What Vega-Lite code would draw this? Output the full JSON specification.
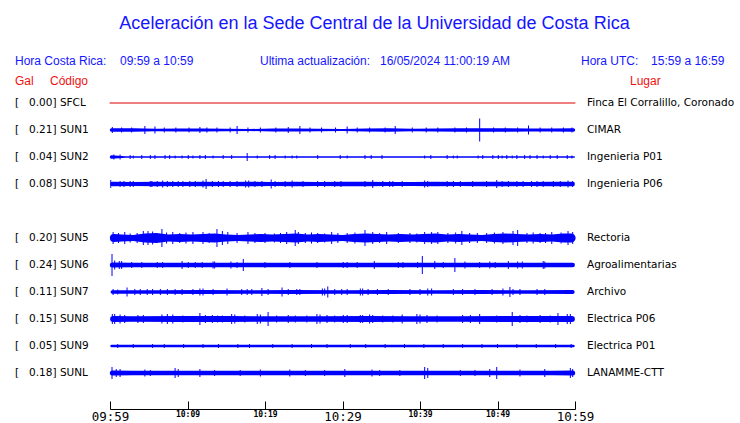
{
"$schema": "https://vega.github.io/schema/vega-lite/v6.json",
"width": 465, "height": 369,
"autosize": {"type": "none"},
"padding": {"left": 110, "top": 40, "right": 165, "bottom": 14},
"background": "white",
"title": {"text": "Aceleración en la Sede Central de la Universidad de Costa Rica", "font": "Liberation Sans", "fontSize": 18, "fontWeight": "normal", "color": "#1515ff", "anchor": "middle", "dx": 32, "offset": 7},
"config": {"view": {"stroke": null}, "axis": {"grid": false}},
"datasets": {
"sta": [
{"s": "SFCL", "slot": 0, "label": "[\u00a0\u00a0\u00a00.00] SFCL", "place": "Finca El Corralillo, Coronado"},
{"s": "SUN1", "slot": 1, "label": "[\u00a0\u00a0\u00a00.21] SUN1", "place": "CIMAR"},
{"s": "SUN2", "slot": 2, "label": "[\u00a0\u00a0\u00a00.04] SUN2", "place": "Ingenieria P01"},
{"s": "SUN3", "slot": 3, "label": "[\u00a0\u00a0\u00a00.08] SUN3", "place": "Ingenieria P06"},
{"s": "SUN5", "slot": 5, "label": "[\u00a0\u00a0\u00a00.20] SUN5", "place": "Rectoria"},
{"s": "SUN6", "slot": 6, "label": "[\u00a0\u00a0\u00a00.24] SUN6", "place": "Agroalimentarias"},
{"s": "SUN7", "slot": 7, "label": "[\u00a0\u00a0\u00a00.11] SUN7", "place": "Archivo"},
{"s": "SUN8", "slot": 8, "label": "[\u00a0\u00a0\u00a00.15] SUN8", "place": "Electrica P06"},
{"s": "SUN9", "slot": 9, "label": "[\u00a0\u00a0\u00a00.05] SUN9", "place": "Electrica P01"},
{"s": "SUNL", "slot": 10, "label": "[\u00a0\u00a0\u00a00.18] SUNL", "place": "LANAMME-CTT"}
],
"hdr": [
{"txt": "Hora Costa Rica:", "t": -12.26, "slot": -1.56, "k": "h"},
{"txt": "09:59 a 10:59", "t": 1.29, "slot": -1.56, "k": "h"},
{"txt": "Ultima actualización:", "t": 19.35, "slot": -1.56, "k": "h"},
{"txt": "16/05/2024 11:00:19 AM", "t": 34.84, "slot": -1.56, "k": "h"},
{"txt": "Hora UTC:", "t": 60.77, "slot": -1.56, "k": "h"},
{"txt": "15:59 a 16:59", "t": 69.81, "slot": -1.56, "k": "h"},
{"txt": "Gal", "t": -12.26, "slot": -0.8, "k": "c"},
{"txt": "Código", "t": -7.74, "slot": -0.8, "k": "c"},
{"txt": "Lugar", "t": 67.1, "slot": -0.8, "k": "c"}
],
"env": [
{"s":"SFCL","t":0,"a":1},{"s":"SFCL","t":60,"a":1},
{"s":"SUN1","t":0.2,"a":3.5},{"s":"SUN1","t":3,"a":3.5},{"s":"SUN1","t":6,"a":2.5},{"s":"SUN1","t":9,"a":3},{"s":"SUN1","t":12,"a":3},{"s":"SUN1","t":15,"a":2.5},{"s":"SUN1","t":18,"a":2},{"s":"SUN1","t":21,"a":3},{"s":"SUN1","t":24,"a":3},{"s":"SUN1","t":27,"a":2.5},{"s":"SUN1","t":30,"a":2},{"s":"SUN1","t":33,"a":3},{"s":"SUN1","t":36,"a":3.5},{"s":"SUN1","t":39,"a":2.5},{"s":"SUN1","t":42,"a":3},{"s":"SUN1","t":45,"a":3.5},{"s":"SUN1","t":48,"a":3.5},{"s":"SUN1","t":51,"a":3.5},{"s":"SUN1","t":54,"a":3},{"s":"SUN1","t":57,"a":3},{"s":"SUN1","t":59.8,"a":3.5},
{"s":"SUN2","t":0.2,"a":3.5},{"s":"SUN2","t":2,"a":1.5},{"s":"SUN2","t":30,"a":1.5},{"s":"SUN2","t":59.9,"a":1.5},
{"s":"SUN3","t":0.3,"a":4.5},{"s":"SUN3","t":3,"a":4},{"s":"SUN3","t":6,"a":4.5},{"s":"SUN3","t":9,"a":4},{"s":"SUN3","t":12,"a":4.5},{"s":"SUN3","t":15,"a":4},{"s":"SUN3","t":18,"a":4.5},{"s":"SUN3","t":21,"a":4},{"s":"SUN3","t":24,"a":4.5},{"s":"SUN3","t":27,"a":4},{"s":"SUN3","t":30,"a":4.5},{"s":"SUN3","t":33,"a":4.5},{"s":"SUN3","t":36,"a":4},{"s":"SUN3","t":39,"a":4},{"s":"SUN3","t":42,"a":4.5},{"s":"SUN3","t":45,"a":4},{"s":"SUN3","t":48,"a":4.5},{"s":"SUN3","t":51,"a":4.5},{"s":"SUN3","t":54,"a":4},{"s":"SUN3","t":57,"a":4.5},{"s":"SUN3","t":59.7,"a":4.5},
{"s":"SUN5","t":0.5,"a":8},{"s":"SUN5","t":1.5,"a":7},{"s":"SUN5","t":3,"a":6},{"s":"SUN5","t":4.5,"a":9},{"s":"SUN5","t":6,"a":10},{"s":"SUN5","t":7.5,"a":7},{"s":"SUN5","t":9,"a":8},{"s":"SUN5","t":10.5,"a":7},{"s":"SUN5","t":12,"a":8},{"s":"SUN5","t":13.5,"a":9},{"s":"SUN5","t":15,"a":7},{"s":"SUN5","t":16.5,"a":6},{"s":"SUN5","t":18,"a":7},{"s":"SUN5","t":19.5,"a":8},{"s":"SUN5","t":21,"a":7},{"s":"SUN5","t":22.5,"a":8},{"s":"SUN5","t":24,"a":9},{"s":"SUN5","t":25.5,"a":7},{"s":"SUN5","t":27,"a":8},{"s":"SUN5","t":28.5,"a":7},{"s":"SUN5","t":30,"a":6},{"s":"SUN5","t":31.5,"a":8},{"s":"SUN5","t":33,"a":9},{"s":"SUN5","t":34.5,"a":8},{"s":"SUN5","t":36,"a":7},{"s":"SUN5","t":37.5,"a":8},{"s":"SUN5","t":39,"a":7},{"s":"SUN5","t":40.5,"a":8},{"s":"SUN5","t":42,"a":9},{"s":"SUN5","t":43.5,"a":7},{"s":"SUN5","t":45,"a":8},{"s":"SUN5","t":46.5,"a":7},{"s":"SUN5","t":48,"a":6},{"s":"SUN5","t":49.5,"a":8},{"s":"SUN5","t":51,"a":9},{"s":"SUN5","t":52.5,"a":8},{"s":"SUN5","t":54,"a":7},{"s":"SUN5","t":55.5,"a":8},{"s":"SUN5","t":57,"a":7},{"s":"SUN5","t":58.5,"a":9},{"s":"SUN5","t":59.5,"a":9},
{"s":"SUN6","t":0.3,"a":5},{"s":"SUN6","t":3,"a":4.5},{"s":"SUN6","t":20,"a":4.5},{"s":"SUN6","t":40,"a":4.5},{"s":"SUN6","t":59.7,"a":4.5},
{"s":"SUN7","t":0.3,"a":3.5},{"s":"SUN7","t":6,"a":3.5},{"s":"SUN7","t":12,"a":4},{"s":"SUN7","t":18,"a":3.5},{"s":"SUN7","t":24,"a":4},{"s":"SUN7","t":30,"a":3.5},{"s":"SUN7","t":36,"a":4},{"s":"SUN7","t":42,"a":3.5},{"s":"SUN7","t":48,"a":4},{"s":"SUN7","t":54,"a":3.5},{"s":"SUN7","t":59.7,"a":4},
{"s":"SUN8","t":0.4,"a":6},{"s":"SUN8","t":3,"a":5.5},{"s":"SUN8","t":9,"a":6},{"s":"SUN8","t":15,"a":6},{"s":"SUN8","t":21,"a":5.5},{"s":"SUN8","t":27,"a":5.5},{"s":"SUN8","t":33,"a":6},{"s":"SUN8","t":39,"a":5.5},{"s":"SUN8","t":45,"a":5.5},{"s":"SUN8","t":51,"a":6},{"s":"SUN8","t":57,"a":6},{"s":"SUN8","t":59.6,"a":6},
{"s":"SUN9","t":0.2,"a":2.5},{"s":"SUN9","t":30,"a":2.5},{"s":"SUN9","t":59.8,"a":2.5},
{"s":"SUNL","t":0.3,"a":5},{"s":"SUNL","t":3,"a":4.5},{"s":"SUNL","t":30,"a":4.5},{"s":"SUNL","t":57,"a":4.5},{"s":"SUNL","t":59.7,"a":5}
],
"spk": [
{"s":"SUN1","t":0.3,"a":6},{"s":"SUN1","t":1.5,"a":5},{"s":"SUN1","t":2.8,"a":5},{"s":"SUN1","t":4.5,"a":8},{"s":"SUN1","t":5.8,"a":7},{"s":"SUN1","t":7,"a":5},{"s":"SUN1","t":8.5,"a":5},{"s":"SUN1","t":10.2,"a":5},{"s":"SUN1","t":11.6,"a":6},{"s":"SUN1","t":12.5,"a":5},{"s":"SUN1","t":13.8,"a":5},{"s":"SUN1","t":15.5,"a":5},{"s":"SUN1","t":16.4,"a":8},{"s":"SUN1","t":17.8,"a":5},{"s":"SUN1","t":19.4,"a":5},{"s":"SUN1","t":21.4,"a":5},{"s":"SUN1","t":23,"a":6},{"s":"SUN1","t":24.5,"a":8},{"s":"SUN1","t":25.8,"a":5},{"s":"SUN1","t":27.3,"a":5},{"s":"SUN1","t":29.1,"a":5},{"s":"SUN1","t":30.6,"a":7},{"s":"SUN1","t":31.9,"a":5},{"s":"SUN1","t":33.5,"a":5},{"s":"SUN1","t":35.5,"a":5},{"s":"SUN1","t":36.8,"a":8},{"s":"SUN1","t":39,"a":5},{"s":"SUN1","t":40.8,"a":5},{"s":"SUN1","t":42.3,"a":5},{"s":"SUN1","t":44.5,"a":5},{"s":"SUN1","t":46,"a":5},{"s":"SUN1","t":47.7,"a":23},{"s":"SUN1","t":49.5,"a":5},{"s":"SUN1","t":51,"a":5},{"s":"SUN1","t":52.6,"a":5},{"s":"SUN1","t":54,"a":9},{"s":"SUN1","t":55.5,"a":5},{"s":"SUN1","t":57,"a":5},{"s":"SUN1","t":58.5,"a":5},{"s":"SUN1","t":59.6,"a":5},
{"s":"SUN2","t":0.5,"a":5},{"s":"SUN2","t":1.3,"a":5},{"s":"SUN2","t":2.6,"a":4},{"s":"SUN2","t":3.0,"a":3},{"s":"SUN2","t":4.1,"a":4},{"s":"SUN2","t":5.2,"a":4},{"s":"SUN2","t":5.8,"a":4},{"s":"SUN2","t":7.1,"a":4},{"s":"SUN2","t":7.7,"a":4},{"s":"SUN2","t":8.4,"a":3},{"s":"SUN2","t":9.3,"a":3},{"s":"SUN2","t":10.1,"a":4},{"s":"SUN2","t":10.7,"a":3},{"s":"SUN2","t":11.6,"a":4},{"s":"SUN2","t":12.3,"a":4},{"s":"SUN2","t":13.3,"a":3},{"s":"SUN2","t":14.6,"a":4},{"s":"SUN2","t":15.7,"a":4},{"s":"SUN2","t":17.7,"a":8},{"s":"SUN2","t":19.0,"a":3},{"s":"SUN2","t":20.6,"a":4},{"s":"SUN2","t":21.3,"a":4},{"s":"SUN2","t":22.6,"a":3},{"s":"SUN2","t":23.5,"a":3},{"s":"SUN2","t":24.1,"a":3},{"s":"SUN2","t":26.8,"a":4},{"s":"SUN2","t":29.7,"a":4},{"s":"SUN2","t":30.6,"a":3},{"s":"SUN2","t":32.9,"a":4},{"s":"SUN2","t":33.7,"a":4},{"s":"SUN2","t":35.1,"a":4},{"s":"SUN2","t":40.6,"a":3},{"s":"SUN2","t":41.4,"a":4},{"s":"SUN2","t":43.5,"a":4},{"s":"SUN2","t":44.3,"a":3},{"s":"SUN2","t":44.8,"a":3},{"s":"SUN2","t":47.5,"a":3},{"s":"SUN2","t":48.1,"a":4},{"s":"SUN2","t":49.4,"a":4},{"s":"SUN2","t":50.1,"a":4},{"s":"SUN2","t":50.6,"a":3},{"s":"SUN2","t":51.2,"a":4},{"s":"SUN2","t":51.9,"a":3},{"s":"SUN2","t":52.5,"a":4},{"s":"SUN2","t":53.5,"a":4},{"s":"SUN2","t":54.2,"a":4},{"s":"SUN2","t":55.1,"a":4},{"s":"SUN2","t":55.9,"a":3},{"s":"SUN2","t":56.8,"a":4},{"s":"SUN2","t":57.7,"a":4},{"s":"SUN2","t":59.0,"a":4},{"s":"SUN2","t":59.6,"a":3},
{"s":"SUN3","t":0.1,"a":8},{"s":"SUN3","t":1.3,"a":6},{"s":"SUN3","t":1.8,"a":6},{"s":"SUN3","t":2.6,"a":6},{"s":"SUN3","t":3.0,"a":6},{"s":"SUN3","t":5.2,"a":6},{"s":"SUN3","t":5.4,"a":6},{"s":"SUN3","t":6.1,"a":6},{"s":"SUN3","t":6.8,"a":7},{"s":"SUN3","t":7.4,"a":6},{"s":"SUN3","t":8.1,"a":6},{"s":"SUN3","t":8.8,"a":6},{"s":"SUN3","t":9.4,"a":6},{"s":"SUN3","t":10.3,"a":6},{"s":"SUN3","t":11.0,"a":6},{"s":"SUN3","t":12.0,"a":7},{"s":"SUN3","t":12.4,"a":10},{"s":"SUN3","t":13.2,"a":6},{"s":"SUN3","t":14.0,"a":6},{"s":"SUN3","t":14.6,"a":6},{"s":"SUN3","t":15.5,"a":6},{"s":"SUN3","t":16.4,"a":6},{"s":"SUN3","t":17.5,"a":7},{"s":"SUN3","t":17.9,"a":7},{"s":"SUN3","t":18.7,"a":6},{"s":"SUN3","t":19.6,"a":6},{"s":"SUN3","t":20.8,"a":9},{"s":"SUN3","t":21.3,"a":6},{"s":"SUN3","t":22.6,"a":6},{"s":"SUN3","t":23.5,"a":7},{"s":"SUN3","t":24.9,"a":6},{"s":"SUN3","t":26.8,"a":6},{"s":"SUN3","t":27.7,"a":6},{"s":"SUN3","t":29.0,"a":6},{"s":"SUN3","t":29.8,"a":6},{"s":"SUN3","t":32.9,"a":6},{"s":"SUN3","t":33.9,"a":8},{"s":"SUN3","t":35.2,"a":6},{"s":"SUN3","t":36.1,"a":6},{"s":"SUN3","t":36.5,"a":6},{"s":"SUN3","t":37.7,"a":6},{"s":"SUN3","t":40.6,"a":7},{"s":"SUN3","t":41.0,"a":6},{"s":"SUN3","t":43.5,"a":6},{"s":"SUN3","t":44.3,"a":6},{"s":"SUN3","t":45.2,"a":6},{"s":"SUN3","t":46.8,"a":6},{"s":"SUN3","t":48.6,"a":6},{"s":"SUN3","t":49.9,"a":8},{"s":"SUN3","t":50.6,"a":6},{"s":"SUN3","t":51.4,"a":6},{"s":"SUN3","t":52.5,"a":6},{"s":"SUN3","t":53.3,"a":6},{"s":"SUN3","t":54.4,"a":6},{"s":"SUN3","t":55.1,"a":6},{"s":"SUN3","t":55.9,"a":6},{"s":"SUN3","t":57.2,"a":6},{"s":"SUN3","t":58.1,"a":6},{"s":"SUN3","t":59.1,"a":7},{"s":"SUN3","t":59.7,"a":6},
{"s":"SUN5","t":0.4,"a":12},{"s":"SUN5","t":1.1,"a":10},{"s":"SUN5","t":1.9,"a":12},{"s":"SUN5","t":2.6,"a":9},{"s":"SUN5","t":3.5,"a":10},{"s":"SUN5","t":4.3,"a":14},{"s":"SUN5","t":4.9,"a":14},{"s":"SUN5","t":5.5,"a":13},{"s":"SUN5","t":6.7,"a":18},{"s":"SUN5","t":7.3,"a":11},{"s":"SUN5","t":8.1,"a":12},{"s":"SUN5","t":9.0,"a":10},{"s":"SUN5","t":9.8,"a":11},{"s":"SUN5","t":10.7,"a":12},{"s":"SUN5","t":12.0,"a":12},{"s":"SUN5","t":12.8,"a":10},{"s":"SUN5","t":13.8,"a":18},{"s":"SUN5","t":14.5,"a":14},{"s":"SUN5","t":15.2,"a":12},{"s":"SUN5","t":16.4,"a":10},{"s":"SUN5","t":17.8,"a":12},{"s":"SUN5","t":18.7,"a":10},{"s":"SUN5","t":20.0,"a":10},{"s":"SUN5","t":21.2,"a":9},{"s":"SUN5","t":22.0,"a":10},{"s":"SUN5","t":22.8,"a":12},{"s":"SUN5","t":23.9,"a":16},{"s":"SUN5","t":24.3,"a":12},{"s":"SUN5","t":25.2,"a":10},{"s":"SUN5","t":26.0,"a":11},{"s":"SUN5","t":26.8,"a":10},{"s":"SUN5","t":27.7,"a":9},{"s":"SUN5","t":28.6,"a":12},{"s":"SUN5","t":29.4,"a":10},{"s":"SUN5","t":30.6,"a":10},{"s":"SUN5","t":31.6,"a":11},{"s":"SUN5","t":32.9,"a":16},{"s":"SUN5","t":33.9,"a":12},{"s":"SUN5","t":34.8,"a":10},{"s":"SUN5","t":35.7,"a":12},{"s":"SUN5","t":37.2,"a":10},{"s":"SUN5","t":38.7,"a":10},{"s":"SUN5","t":39.6,"a":9},{"s":"SUN5","t":40.6,"a":12},{"s":"SUN5","t":41.5,"a":12},{"s":"SUN5","t":42.3,"a":12},{"s":"SUN5","t":43.6,"a":10},{"s":"SUN5","t":44.6,"a":11},{"s":"SUN5","t":45.4,"a":14},{"s":"SUN5","t":46.4,"a":10},{"s":"SUN5","t":47.4,"a":10},{"s":"SUN5","t":48.6,"a":10},{"s":"SUN5","t":49.6,"a":11},{"s":"SUN5","t":50.7,"a":12},{"s":"SUN5","t":52.0,"a":14},{"s":"SUN5","t":52.6,"a":16},{"s":"SUN5","t":53.8,"a":10},{"s":"SUN5","t":54.6,"a":11},{"s":"SUN5","t":55.5,"a":10},{"s":"SUN5","t":56.2,"a":10},{"s":"SUN5","t":57.0,"a":12},{"s":"SUN5","t":58.2,"a":11},{"s":"SUN5","t":59.1,"a":14},{"s":"SUN5","t":59.7,"a":12},
{"s":"SUN6","t":0.26,"a":22},{"s":"SUN6","t":0.6,"a":9},{"s":"SUN6","t":1.2,"a":8},{"s":"SUN6","t":1.5,"a":8},{"s":"SUN6","t":2.8,"a":6},{"s":"SUN6","t":4.1,"a":6},{"s":"SUN6","t":6.1,"a":6},{"s":"SUN6","t":6.8,"a":6},{"s":"SUN6","t":9.3,"a":8},{"s":"SUN6","t":10.1,"a":6},{"s":"SUN6","t":11.0,"a":6},{"s":"SUN6","t":11.9,"a":6},{"s":"SUN6","t":13.3,"a":7},{"s":"SUN6","t":13.5,"a":7},{"s":"SUN6","t":15.6,"a":7},{"s":"SUN6","t":16.4,"a":6},{"s":"SUN6","t":17.2,"a":12},{"s":"SUN6","t":20.0,"a":6},{"s":"SUN6","t":23.2,"a":6},{"s":"SUN6","t":26.7,"a":6},{"s":"SUN6","t":30.1,"a":6},{"s":"SUN6","t":30.6,"a":6},{"s":"SUN6","t":31.9,"a":6},{"s":"SUN6","t":34.1,"a":8},{"s":"SUN6","t":37.2,"a":6},{"s":"SUN6","t":37.8,"a":6},{"s":"SUN6","t":39.7,"a":6},{"s":"SUN6","t":40.3,"a":18},{"s":"SUN6","t":41.9,"a":8},{"s":"SUN6","t":43.0,"a":6},{"s":"SUN6","t":44.5,"a":14},{"s":"SUN6","t":45.8,"a":7},{"s":"SUN6","t":47.7,"a":6},{"s":"SUN6","t":49.0,"a":7},{"s":"SUN6","t":49.7,"a":6},{"s":"SUN6","t":51.4,"a":8},{"s":"SUN6","t":52.6,"a":7},{"s":"SUN6","t":53.2,"a":7},{"s":"SUN6","t":55.9,"a":8},{"s":"SUN6","t":56.1,"a":7},
{"s":"SUN7","t":0.4,"a":6},{"s":"SUN7","t":1.0,"a":5},{"s":"SUN7","t":2.2,"a":9},{"s":"SUN7","t":3.2,"a":6},{"s":"SUN7","t":3.9,"a":6},{"s":"SUN7","t":4.8,"a":6},{"s":"SUN7","t":5.5,"a":6},{"s":"SUN7","t":6.5,"a":6},{"s":"SUN7","t":7.4,"a":6},{"s":"SUN7","t":8.4,"a":6},{"s":"SUN7","t":9.3,"a":6},{"s":"SUN7","t":10.7,"a":6},{"s":"SUN7","t":11.6,"a":7},{"s":"SUN7","t":12.0,"a":7},{"s":"SUN7","t":13.3,"a":6},{"s":"SUN7","t":15.1,"a":7},{"s":"SUN7","t":17.0,"a":6},{"s":"SUN7","t":17.7,"a":6},{"s":"SUN7","t":18.3,"a":6},{"s":"SUN7","t":19.6,"a":8},{"s":"SUN7","t":20.4,"a":6},{"s":"SUN7","t":22.2,"a":9},{"s":"SUN7","t":23.0,"a":6},{"s":"SUN7","t":24.1,"a":6},{"s":"SUN7","t":24.5,"a":6},{"s":"SUN7","t":27.4,"a":7},{"s":"SUN7","t":27.7,"a":7},{"s":"SUN7","t":28.1,"a":11},{"s":"SUN7","t":29.0,"a":6},{"s":"SUN7","t":29.9,"a":6},{"s":"SUN7","t":30.6,"a":6},{"s":"SUN7","t":32.3,"a":7},{"s":"SUN7","t":32.6,"a":7},{"s":"SUN7","t":33.3,"a":6},{"s":"SUN7","t":34.5,"a":6},{"s":"SUN7","t":35.9,"a":6},{"s":"SUN7","t":38.7,"a":6},{"s":"SUN7","t":40.0,"a":6},{"s":"SUN7","t":41.0,"a":7},{"s":"SUN7","t":41.5,"a":7},{"s":"SUN7","t":44.3,"a":6},{"s":"SUN7","t":45.5,"a":6},{"s":"SUN7","t":47.1,"a":6},{"s":"SUN7","t":49.3,"a":6},{"s":"SUN7","t":50.7,"a":7},{"s":"SUN7","t":51.6,"a":10},{"s":"SUN7","t":52.0,"a":6},{"s":"SUN7","t":52.9,"a":6},{"s":"SUN7","t":55.1,"a":6},{"s":"SUN7","t":56.1,"a":6},
{"s":"SUN8","t":0.3,"a":10},{"s":"SUN8","t":0.6,"a":10},{"s":"SUN8","t":1.3,"a":9},{"s":"SUN8","t":1.9,"a":8},{"s":"SUN8","t":3.6,"a":8},{"s":"SUN8","t":4.3,"a":8},{"s":"SUN8","t":6.7,"a":9},{"s":"SUN8","t":7.4,"a":10},{"s":"SUN8","t":8.1,"a":9},{"s":"SUN8","t":9.4,"a":7},{"s":"SUN8","t":11.6,"a":12},{"s":"SUN8","t":12.3,"a":8},{"s":"SUN8","t":13.2,"a":8},{"s":"SUN8","t":13.9,"a":7},{"s":"SUN8","t":14.5,"a":7},{"s":"SUN8","t":15.7,"a":10},{"s":"SUN8","t":16.1,"a":9},{"s":"SUN8","t":17.4,"a":7},{"s":"SUN8","t":19.0,"a":10},{"s":"SUN8","t":19.4,"a":9},{"s":"SUN8","t":20.4,"a":14},{"s":"SUN8","t":21.5,"a":7},{"s":"SUN8","t":23.0,"a":8},{"s":"SUN8","t":23.9,"a":7},{"s":"SUN8","t":25.4,"a":7},{"s":"SUN8","t":26.7,"a":10},{"s":"SUN8","t":27.1,"a":9},{"s":"SUN8","t":28.0,"a":8},{"s":"SUN8","t":29.0,"a":7},{"s":"SUN8","t":30.1,"a":8},{"s":"SUN8","t":30.6,"a":8},{"s":"SUN8","t":32.3,"a":8},{"s":"SUN8","t":32.6,"a":8},{"s":"SUN8","t":33.5,"a":9},{"s":"SUN8","t":33.9,"a":8},{"s":"SUN8","t":35.2,"a":7},{"s":"SUN8","t":36.5,"a":7},{"s":"SUN8","t":37.7,"a":9},{"s":"SUN8","t":39.6,"a":10},{"s":"SUN8","t":40.0,"a":9},{"s":"SUN8","t":40.9,"a":8},{"s":"SUN8","t":42.2,"a":7},{"s":"SUN8","t":45.5,"a":8},{"s":"SUN8","t":46.5,"a":8},{"s":"SUN8","t":47.7,"a":10},{"s":"SUN8","t":49.9,"a":7},{"s":"SUN8","t":51.9,"a":14},{"s":"SUN8","t":52.9,"a":8},{"s":"SUN8","t":53.8,"a":7},{"s":"SUN8","t":55.5,"a":8},{"s":"SUN8","t":56.8,"a":7},{"s":"SUN8","t":57.8,"a":12},{"s":"SUN8","t":59.0,"a":10},{"s":"SUN8","t":59.4,"a":10},
{"s":"SUN9","t":1,"a":4},{"s":"SUN9","t":3,"a":4},{"s":"SUN9","t":5.5,"a":4},{"s":"SUN9","t":7,"a":4},{"s":"SUN9","t":9.5,"a":4},{"s":"SUN9","t":12,"a":4},{"s":"SUN9","t":14,"a":4},{"s":"SUN9","t":16.5,"a":4},{"s":"SUN9","t":18,"a":4},{"s":"SUN9","t":21,"a":4},{"s":"SUN9","t":23.5,"a":4},{"s":"SUN9","t":26,"a":4},{"s":"SUN9","t":28,"a":4},{"s":"SUN9","t":31,"a":4},{"s":"SUN9","t":33,"a":4},{"s":"SUN9","t":35.5,"a":4},{"s":"SUN9","t":38,"a":4},{"s":"SUN9","t":40.5,"a":4},{"s":"SUN9","t":43,"a":4},{"s":"SUN9","t":45.5,"a":4},{"s":"SUN9","t":48,"a":4},{"s":"SUN9","t":50,"a":4},{"s":"SUN9","t":52.5,"a":4},{"s":"SUN9","t":55,"a":4},{"s":"SUN9","t":57.5,"a":4},{"s":"SUN9","t":59.5,"a":4},
{"s":"SUNL","t":0.26,"a":12},{"s":"SUNL","t":0.8,"a":8},{"s":"SUNL","t":1.3,"a":8},{"s":"SUNL","t":4.5,"a":7},{"s":"SUNL","t":5.2,"a":6},{"s":"SUNL","t":8.4,"a":10},{"s":"SUNL","t":8.8,"a":8},{"s":"SUNL","t":11.6,"a":8},{"s":"SUNL","t":13.5,"a":6},{"s":"SUNL","t":16.8,"a":6},{"s":"SUNL","t":19.4,"a":7},{"s":"SUNL","t":23.2,"a":7},{"s":"SUNL","t":25.2,"a":6},{"s":"SUNL","t":27.7,"a":6},{"s":"SUNL","t":30.3,"a":8},{"s":"SUNL","t":33.8,"a":7},{"s":"SUNL","t":34.8,"a":6},{"s":"SUNL","t":37.4,"a":6},{"s":"SUNL","t":40.6,"a":12},{"s":"SUNL","t":41.0,"a":10},{"s":"SUNL","t":45.2,"a":6},{"s":"SUNL","t":47.1,"a":6},{"s":"SUNL","t":49.0,"a":8},{"s":"SUNL","t":49.9,"a":12},{"s":"SUNL","t":52.9,"a":7},{"s":"SUNL","t":56.1,"a":8},{"s":"SUNL","t":59.4,"a":10},{"s":"SUNL","t":59.7,"a":8}
]
},
"layer": [
{
"data": {"name": "env"},
"transform": [{"lookup": "s", "from": {"data": {"name": "sta"}, "key": "s", "fields": ["slot"]}}],
"mark": {"type": "trail"},
"encoding": {
"x": {"field": "t", "type": "quantitative", "scale": {"domain": [0, 60], "nice": false, "zero": false},
"axis": {"values": [0,5,10,15,20,25,30,35,40,45,50,55,60], "labelExpr": "datum.value % 10 == 0 ? timeFormat(datetime(2024,4,16,9,59+datum.value),'%H:%M') : ''", "title": null, "tickSize": -8, "tickColor": "black", "domain": true, "domainColor": "black", "domainWidth": 1, "labelColor": "black", "labelFont": "DejaVu Sans Mono", "labelFontSize": {"condition": {"test": "datum.value % 30 == 0", "value": 12.5}, "value": 8}, "labelFontWeight": {"condition": {"test": "datum.value % 30 == 0", "value": "normal"}, "value": "bold"}, "labelPadding": 9, "labelFlush": false, "labelOverlap": false, "grid": false}},
"y": {"field": "slot", "type": "quantitative", "scale": {"domain": [-2.3333, 11.3333], "reverse": true, "nice": false, "zero": false}, "axis": null},
"size": {"field": "a", "type": "quantitative", "scale": {"type": "linear", "domain": [0, 30], "range": [0, 30], "zero": true}, "legend": null},
"color": {"field": "s", "type": "nominal", "scale": {"domain": ["SFCL","SUN1","SUN2","SUN3","SUN5","SUN6","SUN7","SUN8","SUN9","SUNL"], "range": ["#dd0000","#0000ff","#0000ff","#0000ff","#0000ff","#0000ff","#0000ff","#0000ff","#0000ff","#0000ff"]}, "legend": null}
}
},
{
"data": {"name": "spk"},
"transform": [{"lookup": "s", "from": {"data": {"name": "sta"}, "key": "s", "fields": ["slot"]}}],
"mark": {"type": "tick", "orient": "vertical", "thickness": 1, "opacity": 1},
"encoding": {
"x": {"field": "t", "type": "quantitative"},
"y": {"field": "slot", "type": "quantitative", "axis": null},
"size": {"field": "a", "type": "quantitative", "legend": null},
"color": {"field": "s", "type": "nominal", "legend": null}
}
},
{
"data": {"name": "sta"},
"mark": {"type": "text", "align": "left", "baseline": "middle", "font": "DejaVu Sans", "fontSize": 10.5, "color": "black"},
"encoding": {
"x": {"datum": -12.26, "type": "quantitative"},
"y": {"field": "slot", "type": "quantitative", "axis": null},
"text": {"field": "label"}
}
},
{
"data": {"name": "sta"},
"mark": {"type": "text", "align": "left", "baseline": "middle", "font": "DejaVu Sans", "fontSize": 10.5, "color": "black"},
"encoding": {
"x": {"datum": 61.55, "type": "quantitative"},
"y": {"field": "slot", "type": "quantitative", "axis": null},
"text": {"field": "place"}
}
},
{
"data": {"name": "hdr"},
"transform": [{"filter": "datum.k == 'h'"}],
"mark": {"type": "text", "align": "left", "baseline": "middle", "font": "Liberation Sans", "fontSize": 12, "color": "#1515ff"},
"encoding": {
"x": {"field": "t", "type": "quantitative"},
"y": {"field": "slot", "type": "quantitative", "axis": null},
"text": {"field": "txt"}
}
},
{
"data": {"name": "hdr"},
"transform": [{"filter": "datum.k == 'c'"}],
"mark": {"type": "text", "align": "left", "baseline": "middle", "font": "Liberation Sans", "fontSize": 12, "color": "#ee1111"},
"encoding": {
"x": {"field": "t", "type": "quantitative"},
"y": {"field": "slot", "type": "quantitative", "axis": null},
"text": {"field": "txt"}
}
}
]
}
